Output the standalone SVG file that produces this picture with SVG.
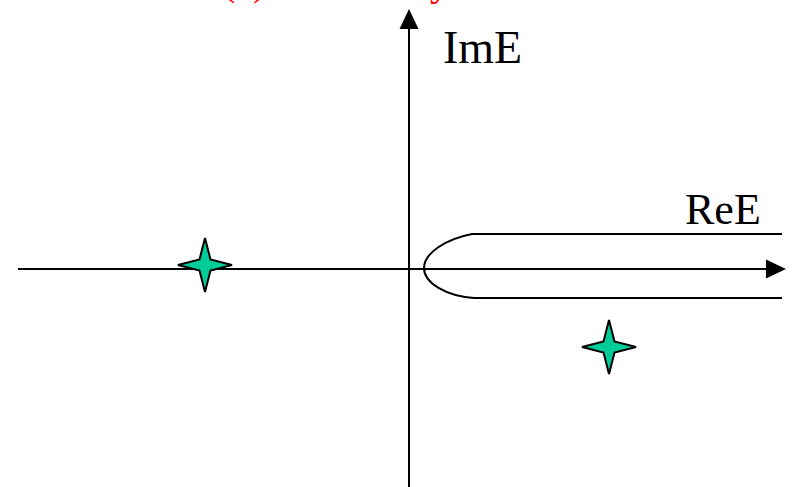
<svg xmlns="http://www.w3.org/2000/svg" width="792" height="487" viewBox="0 0 792 487">
<style>
.ax{stroke:#000;stroke-width:2;fill:none}
.lbl{font-family:"Liberation Serif","Times New Roman",serif;fill:#000}
.red{font-family:"Liberation Serif","Times New Roman",serif;fill:#ff0000;font-size:40px}
.star{fill:#00cc99;stroke:#000;stroke-width:2;stroke-linejoin:miter}
</style>
<defs>
<path id="starShape" d="M0,-27 L5.5,-5.5 L27,0 L5.5,5.5 L0,27 L-5.5,5.5 L-27,0 L-5.5,-5.5 Z"/>
</defs>
<rect width="792" height="487" fill="#fff"/>
<g id="title">
<text class="red" x="222" y="-5">(a)</text>
<text class="red" x="430" y="-5">y</text>
</g>
<g id="connectors">
<line class="ax" x1="409" y1="487" x2="409" y2="28"/>
<polygon points="409,9 399.5,29 418.5,29" fill="#000"/>
<line class="ax" x1="18" y1="269" x2="768" y2="269"/>
<polygon points="786,269 766,259.5 766,278.5" fill="#000"/>
<path class="ax" d="M782,234 H472 C446,239 424,253 424,268 C424,283 446,296 474,298 H782"/>
</g>
<g id="label-ImE"><text class="lbl" x="443" y="62.5" font-size="46">ImE</text></g>
<g id="label-ReE"><text class="lbl" x="685" y="223.5" font-size="44">ReE</text></g>
<g id="star1"><use href="#starShape" class="star" x="205" y="265"/></g>
<g id="star2"><use href="#starShape" class="star" x="609" y="347"/></g>
</svg>
